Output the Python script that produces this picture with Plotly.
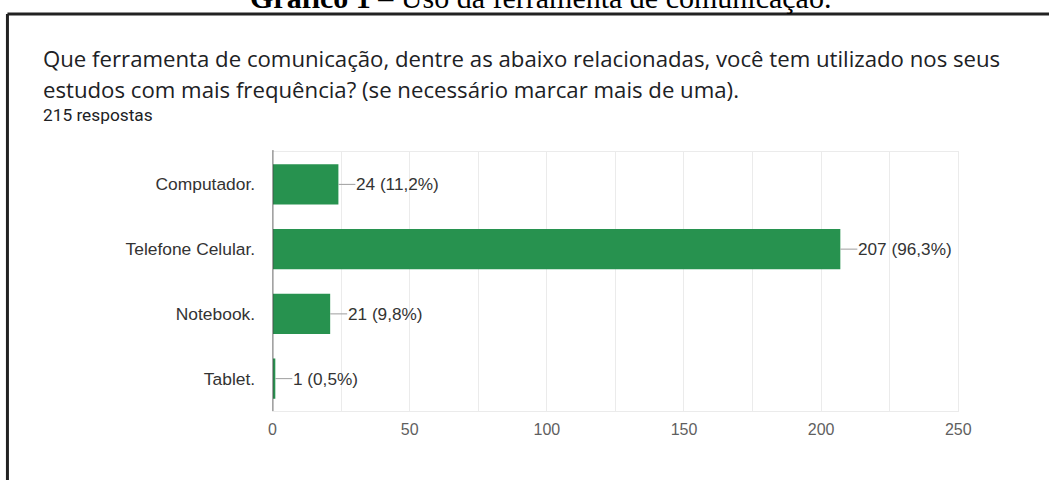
import plotly.graph_objects as go

categories = ["Computador.", "Telefone Celular.", "Notebook.", "Tablet."]
values = [24, 207, 21, 1]
percents = ["11,2%", "96,3%", "9,8%", "0,5%"]
x_ticks = [0, 50, 100, 150, 200, 250]

W, H = 1049, 480
bar_color = "#27924f"

fig = go.Figure()
fig.add_trace(go.Bar(
    x=values, y=categories, orientation="h",
    marker=dict(color=bar_color, line=dict(width=0)),
    hoverinfo="skip",
))

for c, v, p in zip(categories, values, percents):
    fig.add_annotation(
        x=v, y=c, xref="x", yref="y",
        text=f"{v} ({p})", showarrow=True, arrowhead=0, arrowwidth=1,
        arrowcolor="#9e9e9e", ax=17, ay=0, xanchor="left", borderpad=0,
        font=dict(family="Liberation Sans, Arial", size=17.2, color="#333333"),
    )

# caption (clipped at top)
fig.add_annotation(
    x=545 / W, y=1, xref="paper", yref="paper", xanchor="center", yanchor="bottom",
    yshift=-16, showarrow=False,
    text="<b>Gráfico 1</b> – Uso da ferramenta de comunicação.",
    font=dict(family="Liberation Serif, Times New Roman", size=30, color="#000000"),
)
# question title
fig.add_annotation(
    x=38 / W, y=1 - 58 / H, xref="paper", yref="paper", xanchor="left", yanchor="middle",
    showarrow=False, align="left",
    text="Que ferramenta de comunicação, dentre as abaixo relacionadas, você tem utilizado nos seus",
    font=dict(family="Open Sans", size=22.2, color="#202124"),
)
fig.add_annotation(
    x=38 / W, y=1 - 89 / H, xref="paper", yref="paper", xanchor="left", yanchor="middle",
    showarrow=False, align="left",
    text="estudos com mais frequência? (se necessário marcar mais de uma).",
    font=dict(family="Open Sans", size=22.2, color="#202124"),
)
fig.add_annotation(
    x=38 / W, y=1 - 115 / H, xref="paper", yref="paper", xanchor="left", yanchor="middle",
    showarrow=False, align="left", text="215 respostas",
    font=dict(family="Roboto", size=17.3, color="#202124"),
)

# outer box border (left and top edges; right/bottom lie outside the picture)
fig.add_shape(type="line", xref="paper", yref="paper",
              x0=3.5 / W, x1=3.5 / W, y0=-0.01, y1=1 - 14 / H,
              line=dict(color="#222222", width=3), layer="below")
fig.add_shape(type="line", xref="paper", yref="paper",
              x0=3.5 / W, x1=1.02, y0=1 - 14 / H, y1=1 - 14 / H,
              line=dict(color="#222222", width=3), layer="below")

fig.update_layout(
    width=W, height=H,
    margin=dict(l=0, r=0, t=0, b=0),
    paper_bgcolor="white", plot_bgcolor="white",
    showlegend=False, bargap=0.38,
    xaxis=dict(
        domain=[273 / W, 970 / W], range=[0, 250],
        tickvals=x_ticks, ticktext=[str(t) for t in x_ticks],
        showgrid=True, gridcolor="#ebebeb", gridwidth=1,
        minor=dict(dtick=25, showgrid=True, gridcolor="#ebebeb", gridwidth=1),
        zeroline=False, showline=True, mirror=True, linecolor="#ebebeb", linewidth=1,
        ticks="", ticklabelstandoff=4,
        tickfont=dict(family="Liberation Sans, Arial", size=16, color="#5f5f5f"),
        fixedrange=True,
    ),
    yaxis=dict(
        domain=[1 - 411 / H, 1 - 152 / H],
        categoryorder="array", categoryarray=categories, autorange="reversed",
        showgrid=False, zeroline=False, showline=True, mirror=True,
        linecolor="#ebebeb", linewidth=1, ticks="", ticklabelstandoff=13,
        tickfont=dict(family="Liberation Sans, Arial", size=17.4, color="#333333"),
        fixedrange=True,
    ),
)

# axis line at zero (dark)
fig.add_shape(type="line", xref="x", yref="paper", x0=0, x1=0,
              y0=1 - 411 / H, y1=1 - 150 / H,
              line=dict(color="#444444", width=1.5), layer="above")

fig.write_html(
    "out.html",
    config={"displayModeBar": False},
    post_script="document.body.style.margin='0px';document.body.style.overflow='hidden';",
)
